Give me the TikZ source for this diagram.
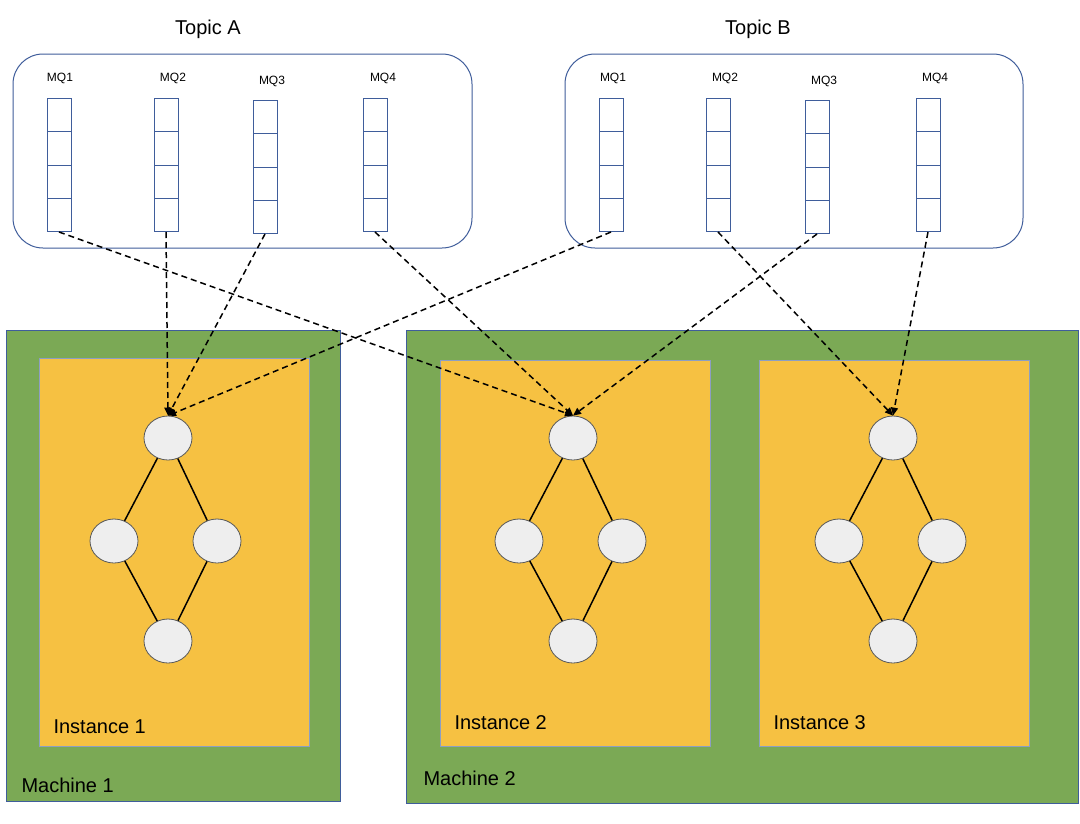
\documentclass[tikz,border=0pt]{standalone}
\usepackage{fontspec}
\setmainfont{Liberation Sans}
\usetikzlibrary{arrows.meta,shapes.geometric}
\definecolor{mgreen}{HTML}{7BA955}
\definecolor{iorange}{HTML}{F6C142}
\definecolor{bblue}{HTML}{3F5D9B}
\definecolor{cfill}{HTML}{EEEEEE}
\begin{document}
\begin{tikzpicture}[x=1pt,y=-1pt,
  topic/.style={draw=bblue,line width=1pt,rounded corners=30pt,fill=white},
  mach/.style={draw=bblue,line width=0.8pt,fill=mgreen},
  inst/.style={draw=bblue!60,line width=0.6pt,fill=iorange},
  q/.style={draw=bblue,line width=1pt,minimum width=24pt,minimum height=133pt,inner sep=0pt,anchor=north,
    path picture={\foreach \k in {1,2,3}{\draw[bblue,line width=1pt] ([yshift=-\k*33.25pt]path picture bounding box.north west) -- ([yshift=-\k*33.25pt]path picture bounding box.north east);}}},
  ql/.style={font=\fontsize{12}{14}\selectfont},
  c/.style={ellipse,draw=gray!70!black,line width=0.8pt,fill=cfill,minimum width=48pt,minimum height=44pt,inner sep=0pt},
  e/.style={line width=1.5pt},
  d/.style={line width=1.5pt,dashed,dash pattern=on 6pt off 4pt,-{Triangle[length=8pt,width=7pt]}},
  lab/.style={font=\fontsize{20}{24}\selectfont,anchor=west}]
\useasboundingbox (0,0) rectangle (1080,823);
\fill[white] (0,0) rectangle (1080,823);
% topics
\node[font=\fontsize{20}{24}\selectfont] (ta) at (208,29) {Topic A};
\node[font=\fontsize{20}{24}\selectfont] (tb) at (758,29) {Topic B};
\draw[topic] (13,54) rectangle (472,248);
\draw[topic] (565,54) rectangle (1023,248);
\foreach \n/\x/\y in {qa1/59/98,qa2/166/98,qa3/265/100,qa4/375/98,qb1/611/98,qb2/718/98,qb3/817/100,qb4/928/98}{
  \node[q] (\n) at (\x,\y) {};
}
\foreach \n/\x/\y/\t in {la1/60/78/MQ1,la2/173/78/MQ2,la3/272/81/MQ3,la4/383/78/MQ4,lb1/613/78/MQ1,lb2/725/78/MQ2,lb3/824/81/MQ3,lb4/935/78/MQ4}{
  \node[ql] (\n) at (\x,\y) {\t};
}
% machines
\draw[mach] (6,330) rectangle (340,801);
\draw[mach] (406,330) rectangle (1078,803);
\draw[inst] (39,358) rectangle (309,746);
\draw[inst] (440,360) rectangle (710,746);
\draw[inst] (759,360) rectangle (1029,746);
\node[lab] (m1) at (18,785) {Machine 1};
\node[lab] (m2) at (420,778) {Machine 2};
\node[lab] (i1) at (50,727) {Instance 1};
\node[lab] (i2) at (451,723) {Instance 2};
\node[lab] (i3) at (770,723) {Instance 3};
% graphs
\foreach \p/\x in {a/168,b/573,c/893}{
  \node[c] (\p t) at (\x,438) {};
  \node[c] (\p l) at (\x-54,541) {};
  \node[c] (\p r) at (\x+49,541) {};
  \node[c] (\p b) at (\x,641) {};
  \draw[e] (\p t) -- (\p l) -- (\p b) -- (\p r) -- (\p t);
}
% dashed arrows
\draw[d] (qa1.south) -- (bt.north);
\draw[d] (qa2.south) -- (at.north);
\draw[d] (qa3.south) -- (at.north);
\draw[d] (qa4.south) -- (bt.north);
\draw[d] (qb1.south) -- (at.north);
\draw[d] (qb2.south) -- (ct.north);
\draw[d] (qb3.south) -- (bt.north);
\draw[d] (qb4.south) -- (ct.north);
\end{tikzpicture}
\end{document}
